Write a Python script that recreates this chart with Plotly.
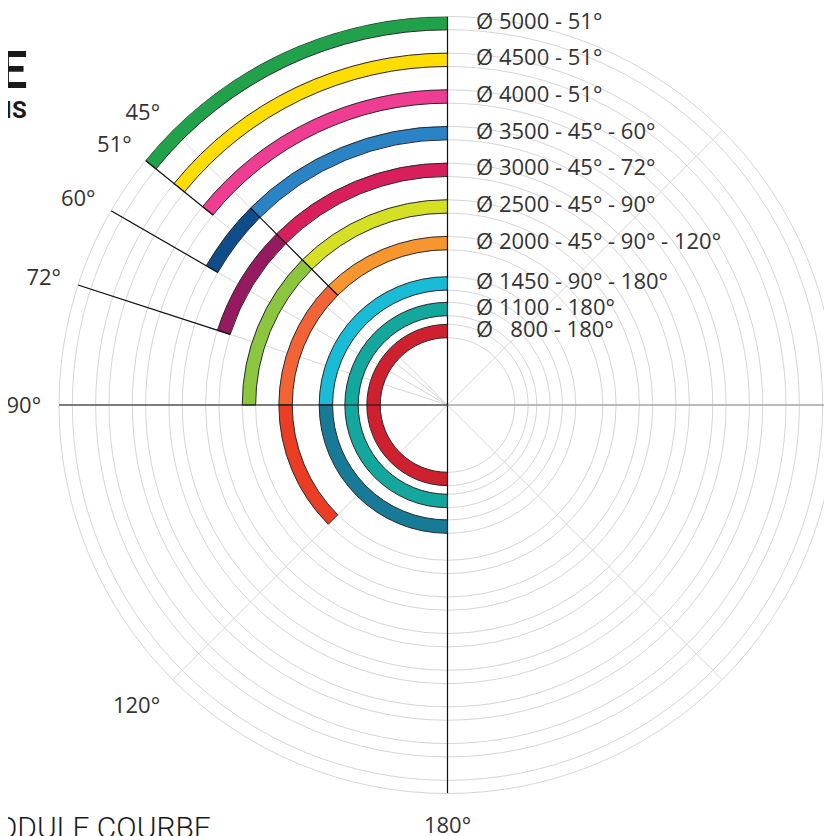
import plotly.graph_objects as go

# ---- data ----
diameters = [5000, 4500, 4000, 3500, 3000, 2500, 2000, 1450, 1100, 800]
labels = ["Ø 5000 - 51°", "Ø 4500 - 51°", "Ø 4000 - 51°", "Ø 3500 - 45° - 60°",
          "Ø 3000 - 45° - 72°", "Ø 2500 - 45° - 90°", "Ø 2000 - 45° - 90° - 120°",
          "Ø 1450 - 90° - 180°", "Ø 1100 - 180°", "Ø\u00a0\u00a0\u00a0800 - 180°"]
segment_ends = [[51], [51], [51], [45, 60], [45, 72], [45, 90], [45, 90, 135],
                [90, 180], [180], [180]]
segment_colors = [["#21A24A"], ["#FFDD00"], ["#EE3D92"], ["#2A83C5", "#0F4C8B"],
                  ["#D91E5C", "#951A5F"], ["#D5DF24", "#8CC63F"],
                  ["#F7962F", "#F26436", "#EA3D24"], ["#19BCD7", "#177B97"],
                  ["#13A79D"], ["#CF202F"]]
angle_ticks = [0, 45, 51, 60, 72, 90, 135, 180, 225, 270, 315]
angle_tick_text = ["", "45°", "51°", "60°", "72°", "90°", "120°", "180°", "", "", ""]

# ---- styling / geometry ----
W, H = 832, 836
ML, MR, MT, MB = 50.5, 3.5, 8, 50
HALF = 91            # half band thickness (radial units)
R_MIN = -209
R_MAX = max(diameters) + HALF
GRID = "#d6d6d6"
TXT = "#333333"

# bars
b_r, b_base, b_theta, b_width, b_color = [], [], [], [], []
for d, ends, cols in zip(diameters, segment_ends, segment_colors):
    a0 = 0
    for a1, c in zip(ends, cols):
        b_r.append(2 * HALF)
        b_base.append(d - HALF)
        b_theta.append((a0 + a1) / 2)
        b_width.append(a1 - a0)
        b_color.append(c)
        a0 = a1

fig = go.Figure()
fig.add_trace(go.Barpolar(
    r=b_r, base=b_base, theta=b_theta, width=b_width,
    marker=dict(color=b_color, line=dict(color="#2b2b2b", width=1)),
    hoverinfo="skip", showlegend=False))

def seg(theta, r0, r1, color="#111111", width=1.2):
    fig.add_trace(go.Scatterpolar(r=[r0, r1], theta=[theta, theta], mode="lines",
                                  line=dict(color=color, width=width),
                                  hoverinfo="skip", showlegend=False))

# black guide lines
for a in (0, 90, 180):
    seg(a, R_MIN, R_MAX)
seg(270, R_MIN, R_MAX, color="#8a8a8a", width=1.2)
for a in (51, 60, 72):
    inner = min(d for d, e in zip(diameters, segment_ends) if e[-1] == a)
    seg(a, inner - HALF, R_MAX)
d45 = [d for d, e in zip(diameters, segment_ends) if 45 in e[:-1]]
seg(45, min(d45) - HALF, max(d45) + HALF)

# labels at top
fig.add_trace(go.Scatterpolar(
    r=diameters, theta=[0] * len(diameters), mode="text",
    text=["\u00a0" * 5 + t for t in labels],
    textposition="middle right",
    textfont=dict(family="Open Sans", size=22, color=TXT),
    cliponaxis=False, hoverinfo="skip", showlegend=False))

ring_vals = sorted([d - HALF for d in diameters] + [d + HALF for d in diameters])

fig.update_layout(
    width=W, height=H,
    margin=dict(l=ML, r=MR, t=MT, b=MB),
    paper_bgcolor="white", plot_bgcolor="white",
    font=dict(family="Open Sans", color=TXT),
    polar=dict(
        bgcolor="white",
        domain=dict(x=[0, 1], y=[0, 1]),
        radialaxis=dict(range=[R_MIN, R_MAX], tickvals=ring_vals, showticklabels=False,
                        ticks="", showline=False, gridcolor=GRID, gridwidth=1,
                        layer="below traces"),
        angularaxis=dict(rotation=90, direction="counterclockwise",
                         tickvals=angle_ticks, ticktext=angle_tick_text,
                         tickfont=dict(family="Open Sans", size=22, color=TXT),
                         ticks="outside", ticklen=13, tickcolor="rgba(0,0,0,0)",
                         showline=True, linecolor=GRID, linewidth=1,
                         gridcolor=GRID, gridwidth=1, layer="below traces"),
    ),
)

# page is shown with an 8px body offset; convert page pixels to paper coords
OFF = 8
pw, ph = W - ML - MR, H - MT - MB
def px(x):
    return (x - OFF - ML) / pw
def py(y):
    return (H - MB - (y - OFF)) / ph

fig.add_annotation(text="<b>E</b>", x=px(28), y=py(70), xref="paper", yref="paper",
                   xanchor="right", yanchor="middle", showarrow=False,
                   font=dict(family="Roboto", size=52, color="#1a1a1a", weight=900))
fig.add_annotation(text="<b>BOIS</b>", x=px(28), y=py(110), xref="paper", yref="paper",
                   xanchor="right", yanchor="middle", showarrow=False,
                   font=dict(family="Roboto", size=24, color="#1a1a1a", weight=900))
fig.add_annotation(text="MODULE COURBE", x=px(213), y=py(808), xref="paper", yref="paper",
                   xanchor="right", yanchor="top", showarrow=False,
                   font=dict(family="Roboto", size=30, color="#1a1a1a", weight=300))

fig.write_html("out.html")
